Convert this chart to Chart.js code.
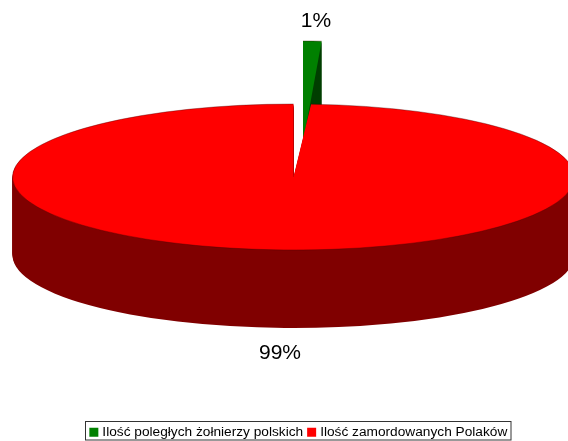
<!DOCTYPE html>
<html>
<head>
<meta charset="utf-8">
<style>
  html, body { margin: 0; padding: 0; background: #fff; }
  #wrap { width: 568px; height: 441px; overflow: hidden; }
</style>
<script src="https://cdn.jsdelivr.net/npm/chart.js@4"></script>
</head>
<body>
<div id="wrap"><canvas id="pie" width="568" height="441"></canvas></div>
<script>
const categories = ["Ilość poległych żołnierzy polskich", "Ilość zamordowanych Polaków"];
const values = [1, 99];
const percentLabels = ["1%", "99%"];
const topColors = ["#008000", "#ff0000"];
const wallColors = ["#004000", "#800000"];

// where each slice sits on the page, the pie itself is flattened by hand
const sliceShape = [
    { x: 303, y: 143, rx: 297, ry: 102, depth: 78 },
    { x: 293.5, y: 177, rx: 281, ry: 73, depth: 78 }
];
const labelSpots = [[316, 27], [280, 359]];

function drawSlice(chart, arc, i) {
    const ctx = chart.ctx;
    const s = sliceShape[i];
    const r = arc.outerRadius;
    const a0 = arc.startAngle, a1 = arc.endAngle;

    function place(dy) {
        ctx.translate(s.x, s.y + dy);
        ctx.scale(s.rx / r, s.ry / r);
        ctx.translate(-arc.x, -arc.y);
    }

    // side wall, same arc stepped downwards
    const top = arc.options;
    arc.options = Object.assign({}, top, { backgroundColor: wallColors[i], borderWidth: 0 });
    for (let d = s.depth; d > 0; d--) {
        ctx.save();
        place(d);
        arc.draw(ctx);
        ctx.restore();
    }
    arc.options = top;

    ctx.save();
    place(0);
    arc.draw(ctx);
    ctx.restore();

    // thin outline of the rim
    ctx.save();
    ctx.beginPath();
    ctx.ellipse(s.x, s.y, s.rx, s.ry, 0, a0, a1);
    ctx.strokeStyle = "rgba(60,0,0,0.5)";
    ctx.lineWidth = 0.7;
    ctx.stroke();
    ctx.restore();
}

const flatPie = {
    id: "flatPie",
    afterUpdate(chart) {
        // legend sits lower and further right than the default centred spot
        const legend = chart.legend;
        const first = legend.legendHitBoxes[0];
        const dx = 92.2 - first.left;
        const dy = 425.5 - first.top;
        legend.left += dx;
        legend.right += dx;
        legend.top += dy;
        legend.bottom += dy;
    },
    beforeDatasetDraw(chart) {
        const arcs = chart.getDatasetMeta(0).data;
        arcs.forEach((arc, i) => drawSlice(chart, arc, i));
        return false;
    },
    afterDraw(chart) {
        const ctx = chart.ctx;
        ctx.save();
        ctx.fillStyle = "#000";
        ctx.font = "21px 'Liberation Sans'";
        ctx.textAlign = "center";
        ctx.textBaseline = "alphabetic";
        percentLabels.forEach((t, i) => ctx.fillText(t, labelSpots[i][0], labelSpots[i][1]));
        // legend frame
        ctx.strokeStyle = "#333";
        ctx.lineWidth = 1;
        ctx.strokeRect(85.5, 421.5, 425.5, 18.5);
        ctx.restore();
    }
};

new Chart(document.getElementById("pie"), {
    type: "pie",
    data: {
        labels: categories,
        datasets: [{
            data: values,
            backgroundColor: topColors,
            borderWidth: 0
        }]
    },
    options: {
        responsive: false,
        animation: false,
        plugins: {
            tooltip: { enabled: false },
            legend: {
                position: "bottom",
                labels: {
                    color: "#000",
                    boxWidth: 3.3,
                    boxHeight: 3.3,
                    padding: 6.8,
                    font: { family: "'Liberation Sans'", size: 13.7 },
                    generateLabels(chart) {
                        // thick border of the same colour keeps the swatch close to its text
                        return categories.map((text, i) => ({
                            text: text,
                            index: i,
                            fillStyle: topColors[i],
                            strokeStyle: topColors[i],
                            fontColor: "#000",
                            lineWidth: 5.7
                        }));
                    }
                }
            }
        }
    },
    plugins: [flatPie]
});
</script>
</body>
</html>
